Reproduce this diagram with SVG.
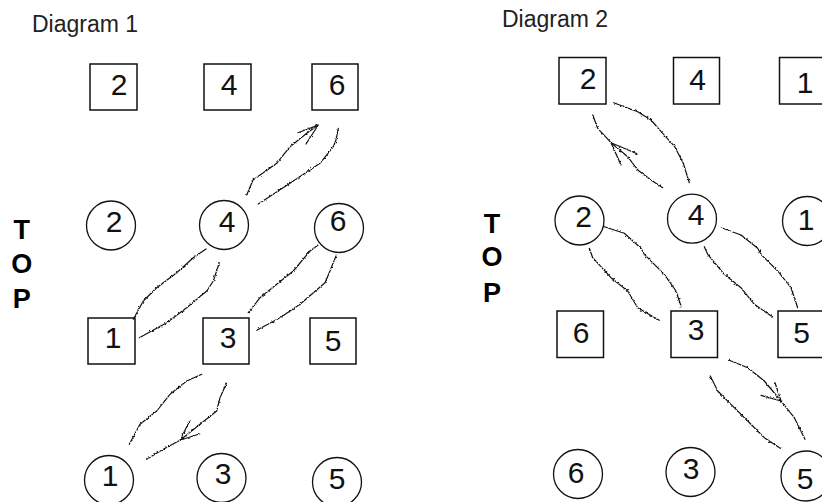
<svg xmlns="http://www.w3.org/2000/svg" width="822" height="502" viewBox="0 0 822 502">
<style>
.title{font-family:"Liberation Sans",Arial,sans-serif;font-size:23px;fill:#222}
.top{font-family:"Liberation Sans",Arial,sans-serif;font-size:27px;font-weight:bold;fill:#000;text-anchor:middle}
.box{fill:#fff;stroke:#111;stroke-width:1.5}
.circ{fill:#fff;stroke:#111;stroke-width:1.3}
.num{font-family:"Liberation Sans",Arial,sans-serif;font-size:30px;fill:#111;text-anchor:middle}
.conn{fill:none;stroke:#111;stroke-width:1.2;stroke-linejoin:round;stroke-linecap:round}
</style>
<defs>
<filter id="rough" filterUnits="userSpaceOnUse" x="0" y="0" width="822" height="502">
<feTurbulence type="fractalNoise" baseFrequency="0.45" numOctaves="1" seed="4" result="n"/>
<feDisplacementMap in="SourceGraphic" in2="n" scale="3" xChannelSelector="R" yChannelSelector="G"/>
</filter>
</defs>
<rect width="822" height="502" fill="#fff"/>

<text class="title" x="32" y="31.7">Diagram 1</text>
<text class="title" x="502" y="26.7">Diagram 2</text>

<g id="top1">
<text class="top" x="21.7" y="239.3">T</text>
<text class="top" x="21.7" y="272.7">O</text>
<text class="top" x="21.7" y="308">P</text>
</g>
<g id="top2">
<text class="top" x="492" y="233.3">T</text>
<text class="top" x="492" y="265.5">O</text>
<text class="top" x="492" y="301.7">P</text>
</g>

<!-- Diagram 1 nodes -->
<g id="d1-box2"><rect class="box" x="90" y="64" width="47" height="46"/><text class="num" x="119" y="95">2</text></g>
<g id="d1-box4"><rect class="box" x="204" y="64" width="47" height="46"/><text class="num" x="229" y="95">4</text></g>
<g id="d1-box6"><rect class="box" x="312" y="64" width="46" height="46"/><text class="num" x="337" y="95">6</text></g>
<g id="d1-circ2"><circle class="circ" cx="111" cy="225.5" r="24.5"/><text class="num" x="114" y="232">2</text></g>
<g id="d1-circ4"><circle class="circ" cx="224" cy="225" r="24.5"/><text class="num" x="227" y="232">4</text></g>
<g id="d1-circ6"><circle class="circ" cx="339" cy="228" r="24.5"/><text class="num" x="338" y="231">6</text></g>
<g id="d1-box1"><rect class="box" x="88" y="318" width="47" height="46"/><text class="num" x="113" y="348">1</text></g>
<g id="d1-box3"><rect class="box" x="203" y="318" width="46" height="46"/><text class="num" x="228" y="348">3</text></g>
<g id="d1-box5"><rect class="box" x="310" y="318" width="46" height="46"/><text class="num" x="333" y="351">5</text></g>
<g id="d1-circ1"><circle class="circ" cx="109" cy="480" r="24.5"/><text class="num" x="110" y="486">1</text></g>
<g id="d1-circ3"><circle class="circ" cx="221.5" cy="478" r="24.5"/><text class="num" x="223" y="484">3</text></g>
<g id="d1-circ5"><circle class="circ" cx="337" cy="482" r="24.5"/><text class="num" x="337" y="489">5</text></g>

<!-- Diagram 2 nodes -->
<g id="d2-box2"><rect class="box" x="559" y="57.5" width="47" height="46.5"/><text class="num" x="588" y="89">2</text></g>
<g id="d2-box4"><rect class="box" x="673.5" y="57.5" width="46" height="46.5"/><text class="num" x="697.5" y="90">4</text></g>
<g id="d2-box1"><rect class="box" x="779.5" y="57.5" width="47" height="46.5"/><text class="num" x="805" y="93">1</text></g>
<g id="d2-circ2"><circle class="circ" cx="579.5" cy="220.5" r="24.5"/><text class="num" x="583.5" y="227">2</text></g>
<g id="d2-circ4"><circle class="circ" cx="692" cy="218.7" r="24.5"/><text class="num" x="696" y="225">4</text></g>
<g id="d2-circ1"><circle class="circ" cx="807" cy="221" r="24.5"/><text class="num" x="806" y="230">1</text></g>
<g id="d2-box6"><rect class="box" x="557" y="311" width="46.5" height="46.5"/><text class="num" x="581" y="342.7">6</text></g>
<g id="d2-box3"><rect class="box" x="671" y="311" width="46.5" height="46.5"/><text class="num" x="696" y="339.5">3</text></g>
<g id="d2-box5"><rect class="box" x="778" y="311" width="47" height="46.5"/><text class="num" x="801.5" y="342.7">5</text></g>
<g id="d2-circ6"><circle class="circ" cx="578" cy="474" r="24.5"/><text class="num" x="576" y="483">6</text></g>
<g id="d2-circ3"><circle class="circ" cx="690.5" cy="472" r="24.5"/><text class="num" x="691" y="479">3</text></g>
<g id="d2-circ5"><circle class="circ" cx="806" cy="476" r="25"/><text class="num" x="805" y="489">5</text></g>

<g id="connectors" filter="url(#rough)">
<!-- Diagram 1 -->
<path class="conn" d="M246.7,195 L253,180 L276.7,163.3 L290,146.7 L306.7,133.3 L318.3,125"/>
<path class="conn" d="M298,132.7 L318.3,125 L306,144"/>
<path class="conn" d="M338.3,128.3 L336,140 L333.3,146.7 L320,163.3 L290,183.3 L258.3,204"/>
<path class="conn" d="M133.3,319.3 L143.3,301 L156.7,287.7 L176.7,272.7 L193.3,257.7 L206,249"/>
<path class="conn" d="M219.3,262.7 L213.3,281 L206.7,291 L186.7,307.7 L166.7,322.7 L139.3,337.7"/>
<path class="conn" d="M248.3,312.7 L260,297.7 L276.7,284.3 L293.3,271 L310,251 L318,245"/>
<path class="conn" d="M336,256 L330,271 L325,282.7 L300,304.3 L280,317.7 L256.7,330.3"/>
<path class="conn" d="M201.7,374.3 L186.7,381 L170,394.3 L156.7,411 L140,424.3 L129.3,444.3"/>
<path class="conn" d="M226.7,382.7 L220,397.7 L216.7,411 L200,424.3 L180,440.3 L163.3,449.3 L146.7,459.3"/>
<path class="conn" d="M190,420.3 L180,440.3 L200,433.7"/>
<!-- Diagram 2 -->
<path class="conn" d="M689.3,182.7 L683.3,163.3 L674.7,146.7 L662.7,133.3 L651,120 L637.7,111.7 L613.7,102.7"/>
<path class="conn" d="M592.7,115 L597.7,128.3 L611,142.7 L627.7,156.7 L637.7,170 L651,180 L662.7,187.7"/>
<path class="conn" d="M637.7,154 L611,142.7 L621,165"/>
<path class="conn" d="M604.3,226.7 L624.3,233.3 L641,248.3 L644.3,254.3 L664.3,274.3 L676,291 L681,306"/>
<path class="conn" d="M589.3,248.3 L592.7,257.7 L611,277.7 L627.7,291 L637.7,307.7 L659.3,320.3"/>
<path class="conn" d="M722.7,228.3 L741,235 L757.7,248.3 L761,254.3 L777.7,271 L791,287.7 L797.7,307.7"/>
<path class="conn" d="M704.3,246.7 L707.7,254.3 L724.3,274.3 L741,287.7 L754.3,304.3 L772.7,317"/>
<path class="conn" d="M729.3,360.3 L747.7,367.7 L764.3,381 L781,401 L794.3,417.7 L805,439.3"/>
<path class="conn" d="M761,395.3 L781,401 L775,382.7"/>
<path class="conn" d="M710.3,376 L717.7,391 L731,404.3 L747.7,421 L764.3,437.7 L780.3,448.3"/>
</g>
</svg>
